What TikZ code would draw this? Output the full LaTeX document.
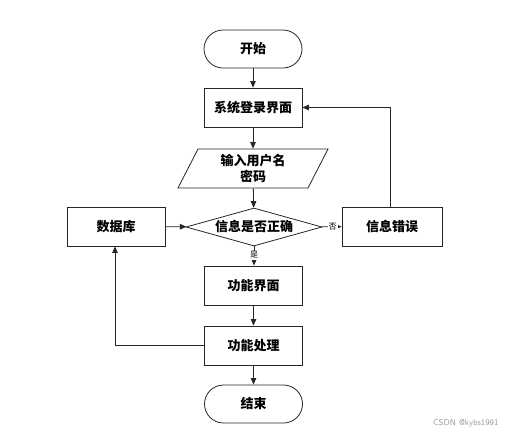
\documentclass[tikz,border=0pt]{standalone}
\usepackage{fontspec}
\newfontfamily\cjk{Noto Sans CJK SC}
\usetikzlibrary{arrows.meta,shapes.geometric}
\begin{document}
\begin{tikzpicture}[x=1pt,y=-1pt,
  base/.style={draw=black!85,line width=0.8pt,font=\cjk\bfseries\fontsize{13}{15}\selectfont,inner sep=0pt},
  term/.style={base,minimum width=98pt,minimum height=38pt,rounded corners=19pt},
  proc/.style={base,minimum width=98pt,minimum height=39pt},
  dec/.style={base,diamond,aspect=3.6,minimum width=136pt,minimum height=38pt},
  arr/.style={draw=black!85,line width=0.8pt,-{Triangle[length=6.5pt,width=5.5pt]}},
  lab/.style={font=\cjk\fontsize{8}{9}\selectfont,inner sep=1pt}]
\useasboundingbox (0,0) rectangle (512,437);
\node[term] (start) at (253,49) {开始};
\node[proc] (login) at (253,107.5) {系统登录界面};
\node[base,draw=none,minimum width=110pt,minimum height=39pt,align=center] (input) at (253,168.5) {输入用户名\\[1pt]密码};
\draw[draw=black!85,line width=0.8pt] (198,149) -- (328,149) -- (308,188) -- (178,188) -- cycle;
\node[dec] (check) at (254,227) {信息是否正确};
\node[proc] (db) at (116,226.5) {数据库};
\node[proc,minimum width=100pt] (err) at (392,226.5) {信息错误};
\node[proc] (func) at (253.5,285.5) {功能界面};
\node[proc] (proc) at (253.5,345.5) {功能处理};
\node[term] (end) at (253.5,404) {结束};
\coordinate (c1) at (390,107.5);
\coordinate (c2) at (115,345.5);
\draw[arr] (start) -- (login);
\draw[arr] (login) -- (input);
\draw[arr] (input) -- (check);
\draw[arr] (db) -- (check);
\draw[arr] (check) -- node[lab,pos=0.55,anchor=center,fill=white] {否} (err);
\draw[arr] (check.south) -- node[lab,pos=0.45,fill=white] {是} (func.north -| check.south);
\draw[arr] (func) -- (proc);
\draw[arr] (proc) -- (end);
\draw[arr] (err.north -| c1) -- (c1) -- (login.east);
\draw[arr] (proc.west) -- (c2) -- (db.south -| c2);
\node[font=\fontsize{8.5}{10}\selectfont\sffamily,text=black!40,anchor=east] (wm) at (502,423) {CSDN @kybs1991};
\end{tikzpicture}
\end{document}
